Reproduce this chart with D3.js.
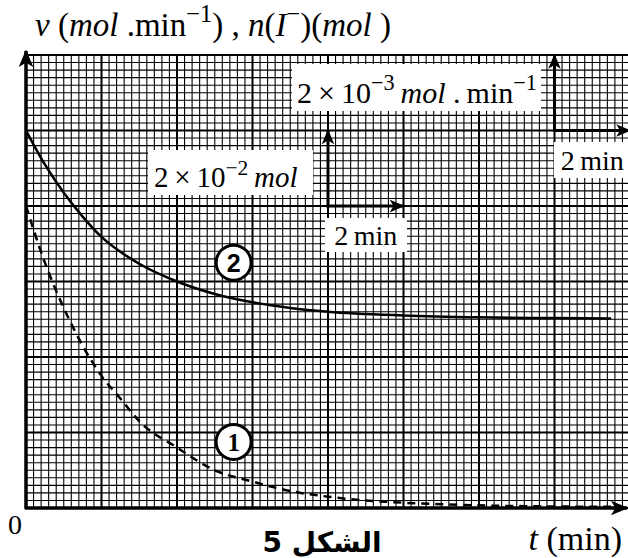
<!DOCTYPE html>
<html>
<head>
<meta charset="utf-8">
<script src="https://cdn.jsdelivr.net/npm/d3@7"></script>
<style>
  body { margin: 0; background: #fff; }
  svg { display: block; }
</style>
</head>
<body>
<div id="chart"></div>
<script>
// courbe 2 : n(I-) en mol
const tN = [0, 0.5, 1, 1.5, 2, 3, 4, 5, 6, 7, 8, 10, 12, 14, 15.5];
const nIodide = [0.100, 0.0910, 0.0835, 0.0772, 0.0718, 0.0647, 0.0600, 0.0567, 0.0545, 0.0530, 0.0520, 0.0510, 0.0505, 0.0503, 0.0502];

// courbe 1 : v en mol/min (pointillés)
const tV = [0, 0.5, 1, 1.5, 2, 2.5, 3, 4, 5, 6, 7, 8, 9, 10, 12, 14, 15.7];
const vRate = [0.0080, 0.0065, 0.0053, 0.0043, 0.0035, 0.0029, 0.0023, 0.0016, 0.0010, 0.0007, 0.00045, 0.0003, 0.0002, 0.00014, 0.00007, 0.00004, 0.00003];

const width = 628, height = 558;
const serif = "'Liberation Serif', 'Times New Roman', serif";

const x = d3.scaleLinear().domain([0, 16]).range([26, 630]);
const yN = d3.scaleLinear().domain([0, 0.12]).range([508, 55]);
const yV = d3.scaleLinear().domain([0, 0.012]).range([508, 55]);

const svg = d3.select("#chart").append("svg")
    .attr("width", width)
    .attr("height", height);

const defs = svg.append("defs");
defs.append("marker")
    .attr("id", "head")
    .attr("viewBox", "0 0 12 10")
    .attr("refX", 11).attr("refY", 5)
    .attr("markerWidth", 5).attr("markerHeight", 4.5)
    .attr("markerUnits", "strokeWidth")
    .attr("orient", "auto")
    .append("path")
    .attr("d", "M0,0 L12,5 L0,10 L3,5 Z")
    .attr("fill", "#000");

// papier millimétré
const grid = svg.append("g");
const xLines = d3.range(0, 81).map(i => i / 5);
const yLines = d3.range(0, 61).map(i => i * 0.002);

grid.selectAll(".vx")
    .data(xLines)
    .enter().append("line")
    .attr("x1", d => x(d)).attr("x2", d => x(d))
    .attr("y1", yN(0)).attr("y2", yN(0.12))
    .attr("stroke", "#000")
    .attr("stroke-width", (d, i) => i % 10 === 0 ? 2 : 1.1);

grid.selectAll(".hy")
    .data(yLines)
    .enter().append("line")
    .attr("x1", x(0)).attr("x2", x(16))
    .attr("y1", d => yN(d)).attr("y2", d => yN(d))
    .attr("stroke", "#000")
    .attr("stroke-width", (d, i) => i % 10 === 0 ? 2 : 1.1);

// axes
svg.append("line")
    .attr("x1", x(0)).attr("x2", x(0))
    .attr("y1", yN(0) + 1).attr("y2", yN(0.12) - 4)
    .attr("stroke", "#000").attr("stroke-width", 3.5)
    .attr("marker-end", "url(#head)");
svg.append("line")
    .attr("x1", x(0) - 1).attr("x2", 627)
    .attr("y1", yN(0)).attr("y2", yN(0))
    .attr("stroke", "#000").attr("stroke-width", 3.5)
    .attr("marker-end", "url(#head)");

// courbes
const lineN = d3.line()
    .x((d, i) => x(tN[i]))
    .y(d => yN(d))
    .curve(d3.curveMonotoneX);
svg.append("path")
    .attr("d", lineN(nIodide))
    .attr("fill", "none")
    .attr("stroke", "#000")
    .attr("stroke-width", 2.5);

const lineV = d3.line()
    .x((d, i) => x(tV[i]))
    .y(d => yV(d))
    .curve(d3.curveMonotoneX);
svg.append("path")
    .attr("d", lineV(vRate))
    .attr("fill", "none")
    .attr("stroke", "#000")
    .attr("stroke-width", 2.5)
    .attr("stroke-dasharray", "8,6");

// texte riche (italique, exposant)
function rich(g, px, py, size, parts, anchor) {
    const t = g.append("text")
        .attr("x", px).attr("y", py)
        .style("font-family", serif)
        .attr("font-size", size)
        .attr("text-anchor", anchor || "start");
    let up = false;
    parts.forEach(p => {
        const s = p[0], k = p[1] || "";
        const ts = t.append("tspan").text(s);
        if (k.includes("i")) ts.attr("font-style", "italic");
        if (k.includes("s")) {
            ts.attr("font-size", size * 0.74);
            if (!up) { ts.attr("dy", -size * 0.42); up = true; }
        } else if (up) {
            ts.attr("dy", size * 0.42); up = false;
        }
    });
    return t;
}

const boxes = svg.append("g");
// cadres blancs des échelles
[[292, 64, 249, 47], [148, 150, 165, 45], [325, 218, 82, 34], [554, 142, 76, 36]].forEach(b => {
    boxes.append("rect")
        .attr("x", b[0]).attr("y", b[1])
        .attr("width", b[2]).attr("height", b[3])
        .attr("fill", "#fff");
});

// flèches d'échelle
function scaleArrows(t0, yScale, v0, v1) {
    svg.append("line")
        .attr("x1", x(t0)).attr("x2", x(t0))
        .attr("y1", yScale(v0) + 1.5).attr("y2", yScale(v1))
        .attr("stroke", "#000").attr("stroke-width", 3)
        .attr("marker-end", "url(#head)");
    svg.append("line")
        .attr("x1", x(t0) - 1.5).attr("x2", x(t0 + 2))
        .attr("y1", yScale(v0)).attr("y2", yScale(v0))
        .attr("stroke", "#000").attr("stroke-width", 3)
        .attr("marker-end", "url(#head)");
}
scaleArrows(8, yN, 0.08, 0.10);
scaleArrows(14, yV, 0.010, 0.012);

const th = "\u2009";
rich(svg, 297, 103, 30, [["2" + th + "×" + th + "10"], ["−3", "s"], [th + "mol", "i"], [" ." + th + "min"], ["−1", "s"]]);
rich(svg, 154, 187, 29, [["2" + th + "×" + th + "10"], ["−2", "s"], [th + "mol", "i"]]);
rich(svg, x(9), 245, 28, [["2" + th + "min"]], "middle");
rich(svg, x(15), 170, 28, [["2" + th + "min"]], "middle");

// titre
rich(svg, 35, 36, 33, [["v", "i"], [" ("], ["mol", "i"], [" .min"], ["−1", "s"], [") , "], ["n", "i"], ["("], ["I", "i"], ["−", "s"], [")("], ["mol", "i"], [" )"]]);

rich(svg, 8, 534, 28, [["0"]]);
rich(svg, 622, 550, 34, [["t", "i"], [" (min)"]], "end");

svg.append("text")
    .attr("x", 322).attr("y", 552)
    .attr("text-anchor", "middle")
    .attr("direction", "rtl")
    .attr("font-family", "'DejaVu Sans', sans-serif")
    .attr("font-weight", "bold")
    .attr("font-size", 28)
    .text("الشكل 5");

// étiquettes des courbes
const tags = [["2", x(5.5), yN(0.065), "sans"], ["1", x(5.5), yV(0.00175), "serif"]];
tags.forEach(d => {
    svg.append("circle")
        .attr("cx", d[1]).attr("cy", d[2]).attr("r", 17.5)
        .attr("fill", "#fff").attr("stroke", "#000").attr("stroke-width", 3);
    svg.append("text")
        .attr("x", d[1]).attr("y", d[2] + 9)
        .attr("text-anchor", "middle")
        .style("font-family", d[3] === "sans" ? "'Liberation Sans', Arial, sans-serif" : serif)
        .attr("font-weight", "bold")
        .attr("font-size", 25)
        .text(d[0]);
});
</script>
</body>
</html>
